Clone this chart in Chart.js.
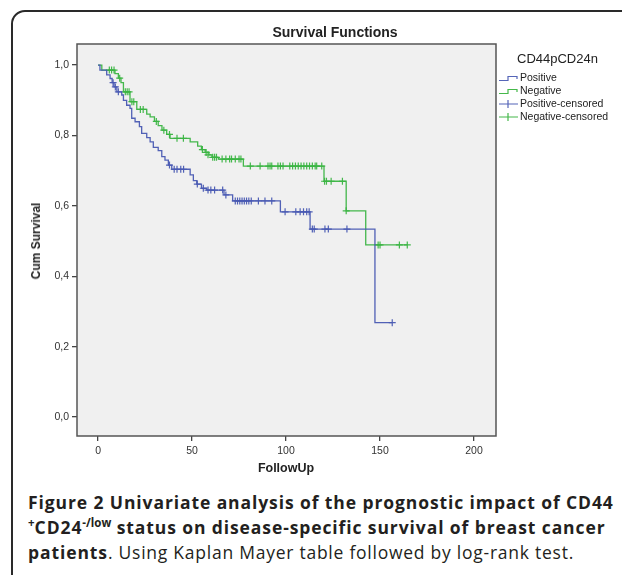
<!DOCTYPE html>
<html>
<head>
<meta charset="utf-8">
<script src="https://cdn.jsdelivr.net/npm/chart.js@4"></script>
<style>
  body { margin: 0; background: #fff; width: 622px; height: 575px; overflow: hidden; position: relative; }
  #frame { position: absolute; left: 11px; top: 10px; width: 660px; height: 600px; border: 2px solid #2a2a2a; border-radius: 14px; }
  #bgChart { position: absolute; left: 0; top: 0; }
  .lbl { position: absolute; font-family: "Liberation Sans", Arial, sans-serif; color: #222; white-space: nowrap; }
  #title { left: 235px; width: 200px; text-align: center; top: 24px; font-size: 14px; font-weight: bold; }
  #ytitle { left: 36px; top: 241px; font-size: 12px; font-weight: bold; transform: translate(-50%, -50%) rotate(-90deg); }
  #xtitle { left: 286px; top: 468px; font-size: 12.5px; font-weight: bold; transform: translate(-50%, -50%); }
  #legTitle { left: 517px; top: 51px; font-size: 13px; }
  .leg { position: absolute; left: 498px; font-family: "Liberation Sans", Arial, sans-serif; font-size: 10.5px; color: #222; white-space: nowrap; }
  .leg svg { vertical-align: middle; margin-right: 1px; }
  #caption { position: absolute; left: 28px; top: 490px; font-family: "Open Sans", sans-serif; font-size: 17.5px; line-height: 25px; color: #231f20; white-space: nowrap; letter-spacing: 0.75px; }
  #caption b { letter-spacing: 0.9px; }
  #caption sup { font-size: 11.5px; line-height: 0; letter-spacing: 0; }
</style>
</head>
<body>
<div id="frame"></div>
<canvas id="bgChart" width="622" height="480" style="width:622px;height:480px"></canvas>
<div id="title" class="lbl">Survival Functions</div>
<div id="ytitle" class="lbl">Cum Survival</div>
<div id="xtitle" class="lbl">FollowUp</div>
<div id="legTitle" class="lbl">CD44pCD24n</div>
<div class="leg" style="top:71px"><svg width="21" height="10"><path d="M1,7.5 H10 V3.5 H19 V6" fill="none" stroke="#5565b8" stroke-width="1.2"/></svg>Positive</div>
<div class="leg" style="top:84px"><svg width="21" height="10"><path d="M1,7.5 H10 V3.5 H19 V6" fill="none" stroke="#45b84a" stroke-width="1.2"/></svg>Negative</div>
<div class="leg" style="top:97px"><svg width="21" height="10"><path d="M1,5 H20 M10,1 V9" fill="none" stroke="#5565b8" stroke-width="1.2"/></svg>Positive-censored</div>
<div class="leg" style="top:110px"><svg width="21" height="10"><path d="M1,5 H20 M10,1 V9" fill="none" stroke="#45b84a" stroke-width="1.2"/></svg>Negative-censored</div>
<div id="caption"><b>Figure 2 Univariate analysis of the prognostic impact of CD44<br><sup>+</sup>CD24<sup>-/low</sup> status on disease-specific survival of breast cancer<br>patients</b>. Using Kaplan Mayer table followed by log-rank test.</div>

<script>
// Positive group: event times and survival after each step
const posTime = [0, 1, 4.6, 6.4, 7.5, 8.5, 10, 12.6, 13.5, 15.2, 17, 17.9, 19.7, 22, 23.2, 25.9, 27.7, 29.4, 32, 33.9, 35.6, 37.4, 39.2, 49, 50.7, 52.5, 55, 57.8, 67, 71.6, 97, 112.8, 147.3, 156.5];
const posSurv = [1.0, 0.986, 0.972, 0.962, 0.950, 0.938, 0.924, 0.915, 0.900, 0.886, 0.877, 0.849, 0.839, 0.825, 0.806, 0.794, 0.782, 0.766, 0.757, 0.740, 0.730, 0.716, 0.704, 0.688, 0.672, 0.662, 0.650, 0.645, 0.631, 0.614, 0.583, 0.534, 0.268, 0.268];
const posCensTime = [8, 9.2, 10.8, 38, 40.5, 42, 44, 45.5, 52.8, 56, 58.5, 60, 62, 66.3, 68, 73, 74.2, 75.4, 76.6, 77.8, 79, 80.2, 81.5, 85.3, 88.8, 92.4, 99.5, 105.2, 107.5, 109.3, 111, 112.3, 114, 115, 120.7, 122.5, 132.4, 156.5];
const posCensSurv = [0.950, 0.938, 0.924, 0.716, 0.704, 0.704, 0.704, 0.704, 0.662, 0.650, 0.645, 0.645, 0.645, 0.645, 0.631, 0.614, 0.614, 0.614, 0.614, 0.614, 0.614, 0.614, 0.614, 0.614, 0.614, 0.614, 0.583, 0.583, 0.583, 0.583, 0.583, 0.583, 0.534, 0.534, 0.534, 0.534, 0.534, 0.268];

// Negative group
const negTime = [0, 2, 9, 10.8, 12.2, 13.5, 17, 20.6, 25.9, 27.7, 30, 32, 34, 36.5, 38.3, 49, 53, 55, 57, 59, 60.6, 64, 77.3, 120.2, 132, 142.4, 164.5];
const negSurv = [1.0, 0.986, 0.976, 0.963, 0.950, 0.924, 0.896, 0.874, 0.861, 0.853, 0.840, 0.828, 0.815, 0.803, 0.792, 0.782, 0.770, 0.760, 0.752, 0.745, 0.738, 0.733, 0.713, 0.670, 0.586, 0.489, 0.489];
const negCensTime = [6, 7.2, 8.5, 11.5, 14.5, 15.5, 16.5, 18, 19, 22.5, 24, 31, 35, 38, 42, 45.4, 55.5, 57.5, 58.5, 61, 62, 63, 66, 68, 70, 71, 73, 75, 76, 81, 86.2, 90.4, 91.5, 92.4, 95.7, 97, 98.4, 102, 103.5, 105, 106.5, 108, 109.5, 111, 112.5, 114, 115.5, 116.3, 119, 120.5, 121.5, 124, 130, 132, 149, 150, 160.3, 164.5];
const negCensSurv = [0.986, 0.986, 0.986, 0.963, 0.924, 0.924, 0.924, 0.896, 0.896, 0.874, 0.874, 0.840, 0.815, 0.803, 0.792, 0.792, 0.760, 0.752, 0.745, 0.738, 0.738, 0.738, 0.733, 0.733, 0.733, 0.733, 0.733, 0.733, 0.733, 0.713, 0.713, 0.713, 0.713, 0.713, 0.713, 0.713, 0.713, 0.713, 0.713, 0.713, 0.713, 0.713, 0.713, 0.713, 0.713, 0.713, 0.713, 0.713, 0.713, 0.670, 0.670, 0.670, 0.670, 0.586, 0.489, 0.489, 0.489, 0.489];

const xTicks = [0, 50, 100, 150, 200];
const yTicks = [0, 0.2, 0.4, 0.6, 0.8, 1.0];

const blue = "rgba(72, 88, 178, 0.95)";
const green = "rgba(58, 180, 66, 0.95)";

function pairs(xs, ys) {
    return xs.map((x, i) => ({ x: x, y: ys[i] }));
}

const plotBox = {
    id: 'plotBox',
    beforeDraw(chart) {
        const a = chart.chartArea, c = chart.ctx;
        c.save();
        c.fillStyle = '#f0f0f0';
        c.fillRect(a.left, a.top, a.right - a.left, a.bottom - a.top);
        c.restore();
    },
    afterDraw(chart) {
        const a = chart.chartArea, c = chart.ctx;
        c.save();
        c.strokeStyle = '#555';
        c.lineWidth = 1.5;
        c.strokeRect(a.left, a.top, a.right - a.left, a.bottom - a.top);
        c.restore();
    }
};

const ctxs = document.getElementById('bgChart').getContext('2d');

new Chart(ctxs, {
    type: 'line',
    data: {
        datasets: [
            { label: 'Positive', data: pairs(posTime, posSurv), stepped: true, borderColor: blue, borderWidth: 1.3, pointRadius: 0, fill: false },
            { label: 'Negative', data: pairs(negTime, negSurv), stepped: true, borderColor: green, borderWidth: 1.3, pointRadius: 0, fill: false },
            { label: 'Positive-censored', data: pairs(posCensTime, posCensSurv), showLine: false, pointStyle: 'cross', pointRadius: 3.5, borderColor: blue, pointBorderWidth: 1.2 },
            { label: 'Negative-censored', data: pairs(negCensTime, negCensSurv), showLine: false, pointStyle: 'cross', pointRadius: 3.5, borderColor: green, pointBorderWidth: 1.2 }
        ]
    },
    options: {
        responsive: false,
        animation: false,
        layout: { padding: { left: 0, top: 44, right: 126, bottom: 0 } },
        scales: {
            x: {
                type: 'linear',
                min: -11.2,
                max: 211.7,
                afterBuildTicks: (s) => { s.ticks = xTicks.map(v => ({ value: v })); },
                afterFit: (s) => { s.height = 44; },
                border: { display: false },
                grid: { drawOnChartArea: false, drawTicks: true, tickLength: 5, color: '#444', lineWidth: 1.3 },
                ticks: { padding: 4, color: '#333', font: { family: 'Liberation Sans', size: 10.5 } }
            },
            y: {
                type: 'linear',
                min: -0.054,
                max: 1.06,
                afterBuildTicks: (s) => { s.ticks = yTicks.map(v => ({ value: v })); },
                afterFit: (s) => { s.width = 77; },
                border: { display: false },
                grid: { drawOnChartArea: false, drawTicks: true, tickLength: 5, color: '#444', lineWidth: 1.3 },
                ticks: {
                    padding: 3,
                    color: '#333',
                    font: { family: 'Liberation Sans', size: 10.5 },
                    callback: (v) => v.toFixed(1).replace('.', ',')
                }
            }
        },
        plugins: {
            legend: { display: false },
            tooltip: { enabled: false }
        }
    },
    plugins: [plotBox]
});
</script>
</body>
</html>
